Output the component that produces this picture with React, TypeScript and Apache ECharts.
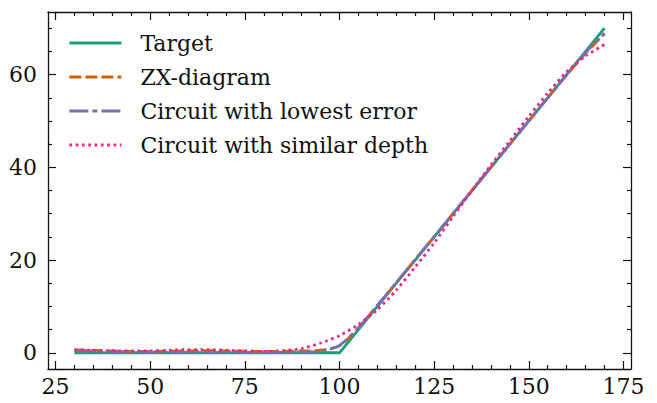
import React, { useEffect, useRef } from "react";
import * as echarts from "echarts";

const xValues = [30, 35, 40, 45, 50, 55, 60, 65, 70, 75, 80, 85, 90, 95, 100, 105, 110, 115, 120, 125, 130, 135, 140, 145, 150, 155, 160, 165, 170];
const target = [0, 0, 0, 0, 0, 0, 0, 0, 0, 0, 0, 0, 0, 0, 0, 5, 10, 15, 20, 25, 30, 35, 40, 45, 50, 55, 60, 65, 70];
const zxDiagram = [0.6, 0.5, 0.4, 0.3, 0.3, 0.35, 0.4, 0.45, 0.4, 0.35, 0.3, 0.35, 0.4, 0.55, 1.5, 5.4, 10.2, 15.1, 20.1, 25.0, 30.0, 35.0, 40.0, 45.0, 50.0, 55.0, 59.9, 64.6, 68.8];
const lowestError = [0.4, 0.3, 0.2, 0.15, 0.1, 0.1, 0.1, 0.1, 0.1, 0.1, 0.1, 0.1, 0.15, 0.3, 1.6, 5.4, 10.2, 15.1, 20.1, 25.0, 30.0, 35.0, 40.0, 45.0, 50.0, 55.0, 60.0, 64.8, 68.9];
const similarDepth = [0.65, 0.55, 0.45, 0.4, 0.4, 0.55, 0.7, 0.7, 0.55, 0.4, 0.3, 0.45, 0.9, 2.1, 3.7, 6.1, 9.3, 13.5, 18.5, 23.7, 29.4, 35.0, 40.5, 45.7, 51.0, 56.0, 60.6, 64.0, 66.5];

const xMajorTicks = [25, 50, 75, 100, 125, 150, 175];
const xMinorTicks = [30, 35, 40, 45, 55, 60, 65, 70, 80, 85, 90, 95, 105, 110, 115, 120, 130, 135, 140, 145, 155, 160, 165, 170];
const yMajorTicks = [0, 20, 40, 60];
const yMinorTicks = [5, 10, 15, 25, 30, 35, 45, 50, 55, 65, 70];

const seriesNames = ["Target", "ZX-diagram", "Circuit with lowest error", "Circuit with similar depth"];

const FONT = "DejaVu Serif";
const INK = "#111111";
const FS = 22;

export default function App() {
  const ref = useRef<HTMLDivElement>(null);

  useEffect(() => {
    if (!ref.current) return;
    const chart = echarts.init(ref.current, undefined, { renderer: "svg" });

    const xr = { min: 23, max: 177 };
    const yr = { min: -3.5, max: 73.5 };

    const makeX = (pos: string, ticks: number[], len: number, labels: boolean, line: boolean) => ({
      type: "value",
      position: pos,
      ...xr,
      splitLine: { show: false },
      axisLine: { show: line, onZero: false, lineStyle: { color: INK, width: 1.3 } },
      axisTick: { show: true, inside: true, length: len, customValues: ticks, lineStyle: { color: INK, width: 1.2 } },
      axisLabel: labels
        ? { show: true, customValues: ticks, margin: 6, fontFamily: FONT, fontSize: FS, color: INK }
        : { show: false },
    });
    const makeY = (pos: string, ticks: number[], len: number, labels: boolean, line: boolean) => ({
      type: "value",
      position: pos,
      ...yr,
      splitLine: { show: false },
      axisLine: { show: line, onZero: false, lineStyle: { color: INK, width: 1.3 } },
      axisTick: { show: true, inside: true, length: len, customValues: ticks, lineStyle: { color: INK, width: 1.2 } },
      axisLabel: labels
        ? { show: true, customValues: ticks, margin: 11, fontFamily: FONT, fontSize: FS, color: INK }
        : { show: false },
    });

    const mk = (vals: number[]) => xValues.map((x, i) => [x, vals[i]]);

    const lineSeries = (name: string, vals: number[], color: string, type: any, smooth: number | boolean) => ({
      name,
      type: "line",
      data: mk(vals),
      xAxisIndex: 0,
      yAxisIndex: 0,
      showSymbol: false,
      symbol: "none",
      smooth,
      lineStyle: { color, width: 2.8, type, cap: "butt" },
      itemStyle: { color },
    });

    chart.setOption({
      animation: false,
      backgroundColor: "#ffffff",
      grid: { left: 48, right: 26, top: 12, bottom: 34, containLabel: false },
      xAxis: [
        makeX("bottom", xMajorTicks, 8, true, true),
        makeX("top", xMajorTicks, 8, false, true),
        makeX("bottom", xMinorTicks, 4, false, false),
        makeX("top", xMinorTicks, 4, false, false),
      ],
      yAxis: [
        makeY("left", yMajorTicks, 8, true, true),
        makeY("right", yMajorTicks, 8, false, true),
        makeY("left", yMinorTicks, 4, false, false),
        makeY("right", yMinorTicks, 4, false, false),
      ],
      legend: {
        orient: "vertical",
        left: 68,
        top: 31,
        itemWidth: 52,
        itemHeight: 14,
        itemGap: 10,
        padding: 0,
        data: seriesNames,
        itemStyle: { opacity: 0, borderWidth: 0 },
        lineStyle: { width: 2.8 },
        textStyle: { fontFamily: FONT, fontSize: FS, lineHeight: 24, color: INK, padding: [0, 0, 0, 14] },
      },
      series: [
        lineSeries(seriesNames[0], target, "#1b9e77", "solid", false),
        lineSeries(seriesNames[1], zxDiagram, "#d95f02", [12, 4], 0.25),
        lineSeries(seriesNames[2], lowestError, "#7570b3", [19, 4, 5, 4], 0.25),
        lineSeries(seriesNames[3], similarDepth, "#e7298a", [2.7, 3.6], 0.25),
      ],
    });

    return () => chart.dispose();
  }, []);

  return (
    <div
      ref={ref}
      style={{ position: "fixed", left: 0, top: 0, width: 657, height: 403, background: "#fff" }}
    />
  );
}
